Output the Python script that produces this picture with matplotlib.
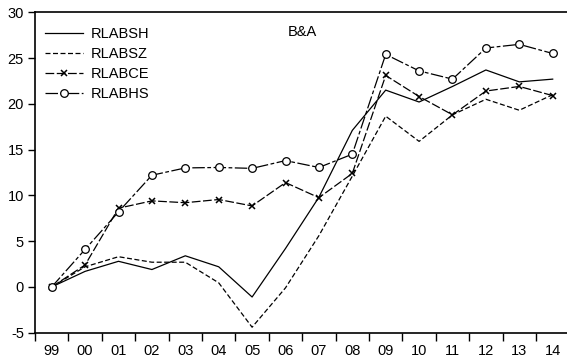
import matplotlib
matplotlib.use("Agg")
import matplotlib.pyplot as plt
import numpy as np

plt.rcParams['font.family'] = ['Liberation Sans', 'DejaVu Sans']
plt.rcParams['axes.unicode_minus'] = False

years = ["99", "00", "01", "02", "03", "04", "05", "06", "07",
         "08", "09", "10", "11", "12", "13", "14"]

rlabsh = [0.0, 1.7, 2.8, 1.9, 3.4, 2.2, -1.1, 4.2, 9.8,
          17.1, 21.5, 20.2, 21.9, 23.7, 22.4, 22.7]
rlabsz = [0.0, 2.2, 3.3, 2.7, 2.7, 0.45, -4.4, -0.1, 5.6,
          12.1, 18.65, 15.9, 18.8, 20.5, 19.3, 21.0]
rlabce = [0.0, 2.4, 8.6, 9.4, 9.2, 9.55, 8.85, 11.4, 9.75,
          12.4, 23.1, 20.8, 18.8, 21.4, 21.9, 20.9]
rlabhs = [0.0, 4.1, 8.2, 12.2, 13.0, 13.05, 12.95, 13.8, 13.05,
          14.5, 25.4, 23.6, 22.7, 26.1, 26.5, 25.5]

fig = plt.figure(figsize=(5.67, 3.64), dpi=100)
ax = fig.add_axes([35 / 567, 1 - 332.7 / 364, 534.4 / 567, 320.4 / 364])

x = np.arange(len(years))
lw = 0.9
fs = 10.5
ax.plot(x, rlabsh, color='black', lw=lw, ls='-', label='RLABSH')
ax.plot(x, rlabsz, color='black', lw=lw, ls=(0, (4, 2)), label='RLABSZ')
ax.plot(x, rlabce, color='black', lw=lw, ls=(0, (7, 2)), marker='x',
        markersize=4.5, markeredgewidth=1.1, label='RLABCE')
ax.plot(x, rlabhs, color='black', lw=lw, ls=(0, (10, 2, 3, 2)), marker='o',
        markersize=5.5, markerfacecolor='white', markeredgewidth=0.9,
        label='RLABHS')

ax.set_xlim(-0.5, len(years) - 0.5)
ax.set_ylim(-5, 30)

# category boundaries get the tick marks, labels sit at the centres
ax.set_xticks(np.arange(-0.5, len(years), 1))
ax.set_xticklabels([])
ax.set_xticks(x, minor=True)
ax.set_xticklabels(years, minor=True, fontsize=fs)
ax.tick_params(axis='x', which='major', direction='out', length=6, width=1)
ax.tick_params(axis='x', which='minor', length=0, pad=8)

ax.set_yticks(np.arange(-5, 31, 5))
ax.tick_params(axis='y', direction='out', length=5, width=1, labelsize=fs,
               pad=3)

for side in ('left', 'top', 'bottom'):
    ax.spines[side].set_linewidth(1.2)
ax.spines['right'].set_visible(False)

ax.text(0.5, 0.96, "B&A", transform=ax.transAxes, fontsize=fs,
        ha='center', va='top')

ax.legend(loc='upper left', bbox_to_anchor=(0.0, 0.985), frameon=False,
          fontsize=fs, handlelength=2.6, handletextpad=0.55,
          labelspacing=0.4, borderaxespad=0.3)

fig.savefig("out.png", dpi=100)
